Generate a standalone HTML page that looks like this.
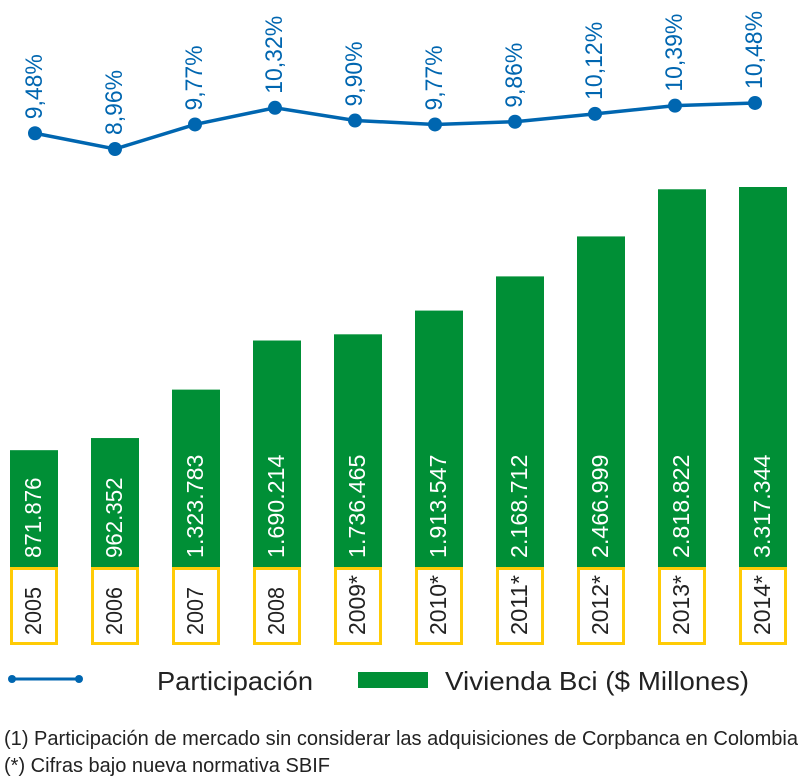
<!DOCTYPE html>
<html><head><meta charset="utf-8"><style>
html,body{margin:0;padding:0;background:#fff;}
svg{display:block;font-family:"Liberation Sans",sans-serif;}
</style></head><body>
<svg id="chart" width="800" height="779" viewBox="0 0 800 779" xmlns="http://www.w3.org/2000/svg">
<g id="bars"></g>
<g id="line"></g>
<g>
  <line x1="12" y1="679" x2="79" y2="679" stroke="#0066b0" stroke-width="3"/>
  <circle cx="12" cy="679" r="4" fill="#0066b0"/>
  <circle cx="79" cy="679" r="4" fill="#0066b0"/>
  <text x="157" y="690" font-size="26" fill="#222" textLength="156" lengthAdjust="spacingAndGlyphs">Participación</text>
  <rect x="358" y="672" width="70" height="16" fill="#008f36"/>
  <text x="445" y="690" font-size="26" fill="#222" textLength="304" lengthAdjust="spacingAndGlyphs">Vivienda Bci ($ Millones)</text>
</g>
<text x="4" y="745" font-size="20" fill="#222" textLength="794" lengthAdjust="spacingAndGlyphs">(1) Participación de mercado sin considerar las adquisiciones de Corpbanca en Colombia</text>
<text x="4" y="772" font-size="20" fill="#222" textLength="326" lengthAdjust="spacingAndGlyphs">(*) Cifras bajo nueva normativa SBIF</text>
</svg>
<script>
const years = ["2005","2006","2007","2008","2009*","2010*","2011*","2012*","2013*","2014*"];
const vivienda = [871876,962352,1323783,1690214,1736465,1913547,2168712,2466999,2818822,3317344];
const viviendaLabels = ["871.876","962.352","1.323.783","1.690.214","1.736.465","1.913.547","2.168.712","2.466.999","2.818.822","3.317.344"];
const participacion = [9.48,8.96,9.77,10.32,9.90,9.77,9.86,10.12,10.39,10.48];
const partLabels = ["9,48%","8,96%","9,77%","10,32%","9,90%","9,77%","9,86%","10,12%","10,39%","10,48%"];

const NS="http://www.w3.org/2000/svg";
const baseY=567, barW=48;
function barX(i){return 10+i*81;}
function barH(v){return Math.min(v*0.000134,380);}
function lineX(i){return 35+i*80;}
function lineY(v){return 149-(v-8.96)*30.3;}
function mk(tag,attrs,parent){const e=document.createElementNS(NS,tag);for(const k in attrs)e.setAttribute(k,attrs[k]);parent.appendChild(e);return e;}

const gb=document.getElementById('bars');
years.forEach((y,i)=>{
  const x=barX(i), h=barH(vivienda[i]);
  const r=mk('rect',{x:x,y:baseY-h,width:barW,height:h,fill:'#008f36'},gb);
  
  
  const cx=x+barW/2+7;
  const t=mk('text',{x:0,y:0,'font-size':23,fill:'#fff',transform:`translate(${cx},558) rotate(-90)`,textLength:viviendaLabels[i].length*11.5,lengthAdjust:'spacingAndGlyphs'},gb);
  t.textContent=viviendaLabels[i];
  
  
  const b=mk('rect',{x:x+1.5,y:baseY+1.5,width:barW-3,height:75,fill:'#fff',stroke:'#ffcb05','stroke-width':3},gb);
  
  
  const yt=mk('text',{x:0,y:0,'font-size':23,fill:'#222',transform:`translate(${cx},635) rotate(-90)`,textLength:y.length*12,lengthAdjust:'spacingAndGlyphs'},gb);
  yt.textContent=y;
  
  
});

const gl=document.getElementById('line');
const pts=participacion.map((v,i)=>lineX(i)+','+lineY(v)).join(' ');
const pl=mk('polyline',{points:pts,fill:'none',stroke:'#0066b0','stroke-width':3.5},gl);


participacion.forEach((v,i)=>{
  const c=mk('circle',{cx:lineX(i),cy:lineY(v),r:7,fill:'#0066b0'},gl);
  
  
  const t=mk('text',{x:0,y:0,'font-size':24,fill:'#0066b0',transform:`translate(${lineX(i)+7},${lineY(v)-14}) rotate(-90)`,textLength:partLabels[i].length*13,lengthAdjust:'spacingAndGlyphs'},gl);
  t.textContent=partLabels[i];
  
  
});
</script>
</body></html>
